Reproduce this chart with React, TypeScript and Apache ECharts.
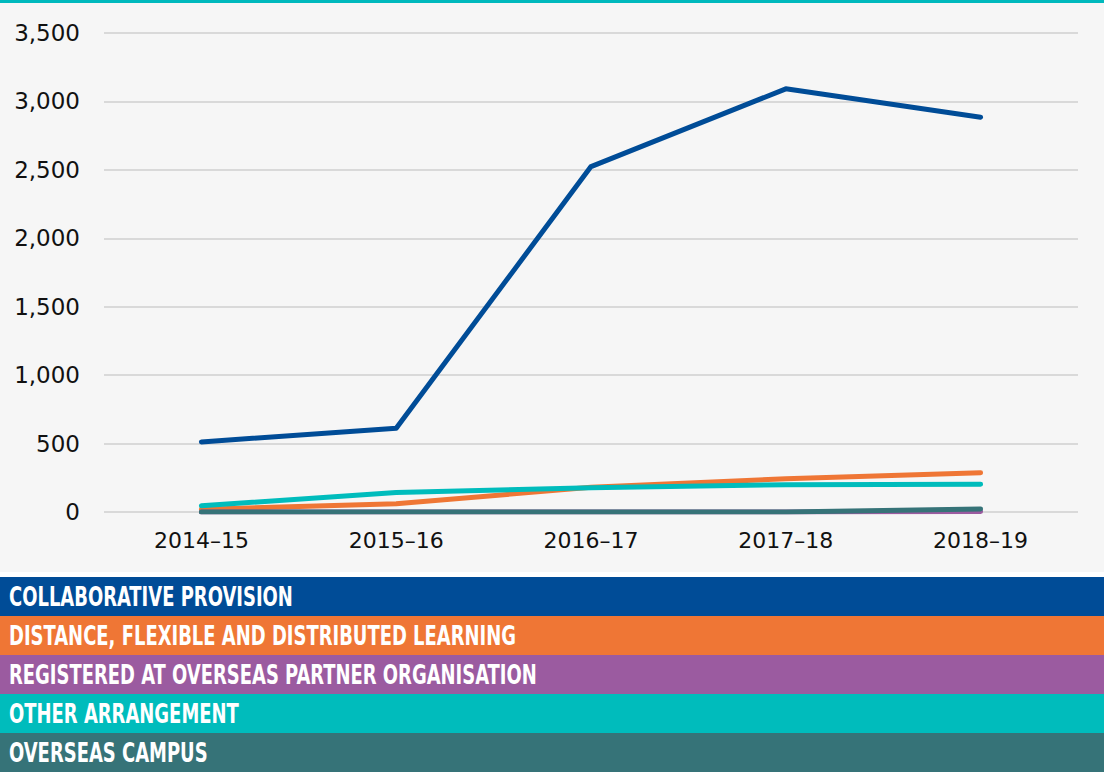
import React, { useEffect, useRef } from "react";
import * as echarts from "echarts";

const categories = ["2014–15", "2015–16", "2016–17", "2017–18", "2018–19"];
const seriesNames = [
  "COLLABORATIVE PROVISION",
  "DISTANCE, FLEXIBLE AND DISTRIBUTED LEARNING",
  "REGISTERED AT OVERSEAS PARTNER ORGANISATION",
  "OTHER ARRANGEMENT",
  "OVERSEAS CAMPUS",
];
const collaborative = [512, 612, 2524, 3092, 2885];
const distance = [20, 60, 180, 243, 287];
const registered = [0, 0, 0, 0, 4];
const other = [45, 143, 178, 200, 203];
const overseasCampus = [0, 0, 0, 0, 22];
const seriesValues = [collaborative, distance, registered, other, overseasCampus];
const colors = ["#004c97", "#ef7635", "#9b5ba0", "#00bcbc", "#367378"];
const yTicks = { min: 0, max: 3500, interval: 500 };

const W = 1104;
const H = 772;
const LEGEND_TOP = 577;
const LEGEND_ROW = 39;
const LEGEND_FONT = "bold 26px 'DejaVu Sans Condensed', 'DejaVu Sans', sans-serif";

function measure(text: string, font: string): number {
  const c = document.createElement("canvas").getContext("2d");
  if (!c) return text.length * 14;
  c.font = font;
  return c.measureText(text).width;
}

export default function App() {
  const ref = useRef<HTMLDivElement>(null);
  useEffect(() => {
    document.body.style.margin = "0";
    if (!ref.current) return;
    const chart = echarts.init(ref.current, undefined, { renderer: "svg" });
    const natural = measure(seriesNames[0], LEGEND_FONT);
    const sx = natural > 0 ? 284 / natural : 1;

    const graphic: any[] = [
      { type: "rect", shape: { x: 0, y: 0, width: W, height: 3 }, style: { fill: "#00b9bd" } },
      { type: "rect", shape: { x: 0, y: 572, width: W, height: 5 }, style: { fill: "#ffffff" } },
    ];
    seriesNames.forEach((name, i) => {
      const top = LEGEND_TOP + i * LEGEND_ROW;
      graphic.push({
        type: "rect",
        shape: { x: 0, y: top, width: W, height: i === 4 ? H - top : LEGEND_ROW },
        style: { fill: colors[i] },
      });
      graphic.push({
        type: "text",
        x: 9,
        y: top + LEGEND_ROW / 2,
        scaleX: sx,
        style: {
          text: name,
          fill: "#ffffff",
          font: LEGEND_FONT,
          textAlign: "left",
          textVerticalAlign: "middle",
        },
      });
    });

    chart.setOption({
      animation: false,
      backgroundColor: "#f6f6f6",
      grid: { left: 104, top: 33, width: 974, height: 479, containLabel: false },
      xAxis: {
        type: "category",
        data: categories,
        boundaryGap: true,
        axisLine: { show: false },
        axisTick: { show: false },
        axisLabel: {
          color: "#111111",
          fontFamily: "DejaVu Sans",
          fontSize: 22,
          margin: 17,
        },
      },
      yAxis: {
        type: "value",
        min: yTicks.min,
        max: yTicks.max,
        interval: yTicks.interval,
        axisLine: { show: false },
        axisTick: { show: false },
        splitLine: { lineStyle: { color: "#d9d9d9", width: 2 } },
        axisLabel: {
          color: "#111111",
          fontFamily: "DejaVu Sans",
          fontSize: 23,
          margin: 24,
          formatter: (v: number) => v.toLocaleString("en-US"),
        },
      },
      series: seriesNames.map((name, i) => ({
        name,
        type: "line",
        data: seriesValues[i],
        symbol: "none",
        lineStyle: { color: colors[i], width: 5, cap: "round", join: "round" },
        itemStyle: { color: colors[i] },
      })),
      graphic,
    });
    return () => chart.dispose();
  }, []);
  return <div ref={ref} style={{ width: W, height: H }} />;
}
